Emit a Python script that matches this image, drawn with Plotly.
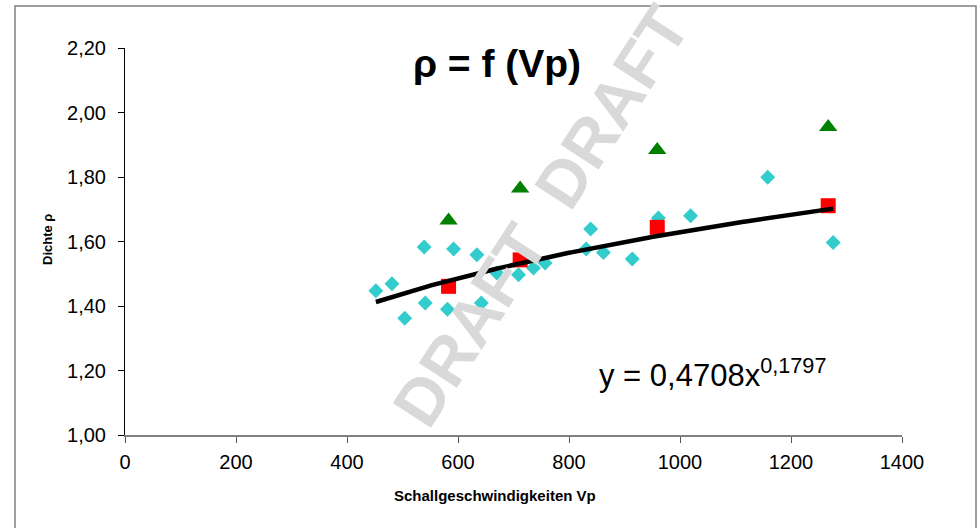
import numpy as np
import plotly.graph_objects as go

# ---- data ----
vp_cyan = [452, 481, 504, 539, 541, 581, 592, 634, 642, 670, 709, 736, 757,
           831, 839, 862, 914, 961, 1019, 1158, 1276]
rho_cyan = [1.447, 1.469, 1.362, 1.583, 1.409, 1.390, 1.577, 1.559, 1.409, 1.502,
            1.497, 1.518, 1.533, 1.577, 1.639, 1.566, 1.546, 1.673, 1.680, 1.799, 1.597]

vp_red = [583, 712, 959, 1267]
rho_red = [1.461, 1.543, 1.644, 1.711]

vp_green = [583, 712, 959, 1267]
rho_green = [1.665, 1.764, 1.884, 1.955]

fit_a = 0.4708
fit_b = 0.1797

x_ticks = [0, 200, 400, 600, 800, 1000, 1200, 1400]
y_ticks = [1.0, 1.2, 1.4, 1.6, 1.8, 2.0, 2.2]
y_ticktext = ["1,00", "1,20", "1,40", "1,60", "1,80", "2,00", "2,20"]

title_text = "ρ = f (Vp)"
eq_text = "y = 0,4708x<sup>0,1797</sup>"
x_title = "Schallgeschwindigkeiten Vp"
y_title = "Dichte ρ"
watermark = "DRAFT  DRAFT"

FONT = "Liberation Sans, Arial, sans-serif"

# plot area in pixels: x 125..902, y 48..435
PL, PR, PT, PB = 125, 902, 48, 435
def px(xp):
    return (xp - PL) / (PR - PL)
def py(yp):
    return (PB - yp) / (PB - PT)

# trendline from the displayed power fit
xs = np.linspace(min(vp_cyan), max(vp_cyan), 200)
ys = fit_a * xs ** fit_b

fig = go.Figure()
fig.add_trace(go.Scatter(x=vp_cyan, y=rho_cyan, mode="markers", name="Vp cyan",
                         marker=dict(symbol="diamond", size=11.5, color="#33CCCC")))
fig.add_trace(go.Scatter(x=vp_red, y=rho_red, mode="markers", name="Vp rot",
                         marker=dict(symbol="square", size=15, color="#FF0000")))
fig.add_trace(go.Scatter(x=vp_green, y=rho_green, mode="markers", name="Vp grün",
                         marker=dict(symbol="triangle-up", size=16, color="#008000")))
fig.add_trace(go.Scatter(x=xs, y=ys, mode="lines", name="Potenz (Vp)",
                         line=dict(color="black", width=4.5)))

fig.update_layout(
    width=977, height=528,
    margin=dict(l=PL, r=977 - PR, t=PT, b=528 - PB, autoexpand=False),
    paper_bgcolor="white", plot_bgcolor="white",
    showlegend=False,
    font=dict(family=FONT, color="black"),
    title=dict(text="<b>" + title_text + "</b>", x=497 / 977, xanchor="center",
               y=1 - 63 / 528, yanchor="middle", font=dict(size=39, family=FONT)),
)
fig.update_xaxes(range=[0, 1400], tickvals=x_ticks, showgrid=False, zeroline=False,
                 showline=True, linecolor="#808080", linewidth=2,
                 ticks="outside", ticklen=6, tickcolor="#555555", tickwidth=1,
                 tickfont=dict(size=20, family=FONT), ticklabelstandoff=2)
fig.update_yaxes(range=[1.0, 2.2], tickvals=y_ticks, ticktext=y_ticktext, showgrid=False,
                 zeroline=False, showline=True, linecolor="black", linewidth=1,
                 ticks="outside", ticklen=6, tickcolor="black", tickwidth=1,
                 tickfont=dict(size=20, family=FONT), ticklabelstandoff=8)

# axis titles
fig.add_annotation(text="<b>" + x_title + "</b>", xref="paper", yref="paper",
                   x=px(495), y=py(496), xanchor="center", yanchor="middle",
                   showarrow=False, font=dict(size=15, family=FONT, color="black"))
fig.add_annotation(text="<b>" + y_title + "</b>", xref="paper", yref="paper",
                   x=px(47), y=py(240), xanchor="center", yanchor="middle", textangle=-90,
                   showarrow=False, font=dict(size=13, family=FONT, color="black"))

fig.add_annotation(text=eq_text, xref="paper", yref="paper", x=px(597),
                   y=py(373), xanchor="left", yanchor="middle", showarrow=False,
                   font=dict(size=31, family=FONT, color="black"))
fig.add_annotation(text="<b>" + watermark + "</b>", xref="paper", yref="paper",
                   x=px(541), y=py(216), showarrow=False,
                   textangle=-57, font=dict(size=66, family=FONT, color="#d9d9d9"))

fig.add_shape(type="rect", xref="paper", yref="paper",
              x0=px(15), x1=px(976), y0=py(560), y1=py(6),
              line=dict(color="#808080", width=1.5), fillcolor="rgba(0,0,0,0)", layer="below")

fig.write_html("out.html", config={"displayModeBar": False},
               post_script="document.body.style.margin='0px';")
